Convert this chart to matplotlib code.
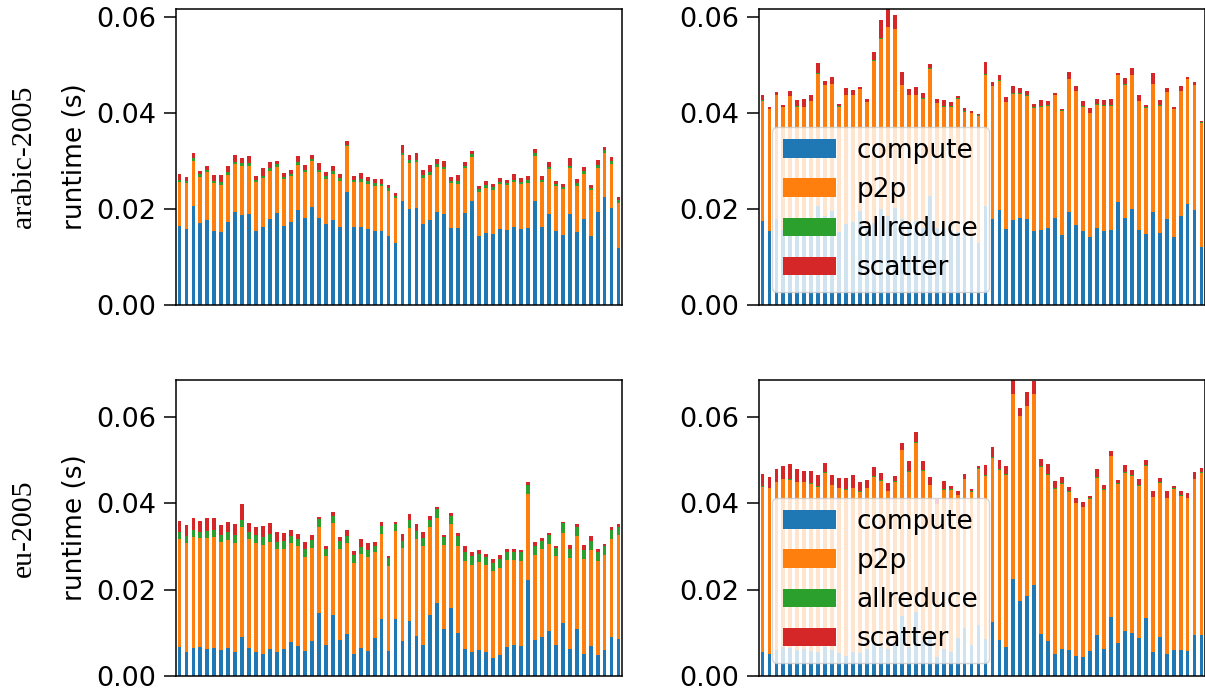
import numpy as np
import matplotlib
matplotlib.use("Agg")
import matplotlib.pyplot as plt

# runtimes in ms, 64 runs per panel
# arabic-2005, left column
arabic_l_compute = [16.4, 15.8, 20.6, 17.1, 17.7, 15.4, 15.2, 17.3, 19.4, 18.7,
                    19.0, 15.4, 16.2, 17.9, 19.2, 16.4, 17.3, 19.8, 18.1, 20.4,
                    18.1, 16.9, 17.7, 16.2, 23.6, 16.2, 16.2, 15.8, 15.4, 15.4,
                    14.4, 12.9, 21.7, 20.0, 20.2, 16.9, 17.7, 19.4, 19.0, 16.0,
                    16.0, 19.2, 21.7, 14.4, 15.0, 14.8, 15.8, 15.6, 16.2, 15.8,
                    16.0, 21.7, 16.2, 19.0, 15.4, 14.6, 19.0, 15.2, 17.9, 14.4,
                    19.4, 22.5, 20.2, 11.8]
arabic_l_p2p = [9.3, 9.5, 9.4, 9.5, 9.9, 10.0, 9.8, 9.8, 10.0, 10.2,
                10.0, 10.2, 10.2, 10.0, 9.6, 9.8, 9.6, 9.4, 9.6, 9.6,
                9.6, 9.4, 9.6, 9.6, 9.4, 9.4, 9.4, 9.4, 9.4, 9.4,
                9.4, 9.4, 9.6, 9.6, 9.6, 9.6, 9.4, 9.4, 9.4, 9.4,
                9.2, 9.4, 9.2, 9.2, 9.4, 9.2, 9.4, 9.4, 9.4, 9.4,
                9.4, 9.4, 9.4, 9.4, 9.4, 9.6, 9.6, 9.6, 9.4, 9.6,
                9.2, 9.2, 9.2, 9.4]
arabic_l_allreduce = [0.4, 0.6, 0.6, 0.6, 0.4, 0.4, 0.6, 0.6, 0.4, 0.6,
                      0.6, 0.4, 0.4, 0.6, 0.6, 0.4, 0.4, 0.6, 0.4, 0.4,
                      0.4, 0.6, 0.6, 0.6, 0.4, 0.4, 0.6, 0.6, 0.6, 0.4,
                      0.6, 0.4, 0.4, 0.6, 0.4, 0.6, 0.6, 0.6, 0.4, 0.4,
                      0.6, 0.4, 0.6, 0.6, 0.6, 0.6, 0.4, 0.4, 0.4, 0.4,
                      0.6, 0.5, 0.4, 0.4, 0.4, 0.4, 0.4, 0.6, 0.6, 0.4,
                      0.6, 0.6, 0.6, 0.6]
arabic_l_scatter = [1.2, 0.8, 1.0, 0.6, 1.0, 1.2, 1.5, 1.2, 1.5, 1.0,
                    1.5, 0.8, 1.7, 1.2, 0.6, 0.8, 0.8, 1.2, 1.0, 0.8,
                    1.5, 0.8, 1.0, 0.8, 0.8, 0.8, 1.2, 0.8, 0.8, 1.0,
                    0.6, 0.6, 1.7, 1.0, 1.5, 1.0, 1.5, 1.0, 1.2, 0.8,
                    1.2, 0.8, 0.6, 0.6, 0.8, 0.6, 0.8, 0.6, 1.2, 0.8,
                    0.8, 0.8, 0.8, 1.0, 0.6, 0.6, 1.5, 0.8, 0.8, 0.6,
                    1.0, 0.6, 0.8, 0.6]

# arabic-2005, right column
arabic_r_compute = [17.4, 15.3, 18.0, 15.6, 17.3, 15.2, 15.0, 17.0, 20.6, 18.5,
                    19.5, 15.2, 16.8, 17.3, 19.5, 16.3, 17.0, 20.0, 18.5, 20.2,
                    18.0, 16.8, 17.5, 16.0, 22.6, 16.0, 16.0, 15.6, 15.2, 15.2,
                    14.2, 12.8, 20.6, 17.9, 19.8, 15.8, 17.7, 18.1, 17.9, 15.4,
                    15.6, 16.0, 18.1, 14.6, 19.4, 16.7, 15.4, 14.1, 16.0, 15.4,
                    15.6, 21.5, 18.1, 20.0, 15.6, 14.8, 19.4, 15.0, 17.9, 14.1,
                    18.5, 21.0, 19.8, 12.1]
arabic_r_p2p = [25.0, 25.4, 25.6, 25.6, 26.1, 26.1, 26.2, 25.4, 27.4, 27.2,
                26.4, 26.1, 26.8, 26.3, 25.4, 25.9, 33.7, 35.3, 39.3, 37.2,
                27.7, 26.8, 26.1, 26.9, 26.5, 26.0, 25.3, 25.7, 27.6, 24.9,
                25.7, 26.6, 27.2, 27.6, 26.8, 26.4, 26.3, 25.9, 25.6, 25.7,
                25.7, 25.5, 25.5, 25.8, 27.6, 27.8, 25.9, 25.8, 25.7, 26.1,
                25.9, 26.3, 27.6, 27.8, 26.8, 26.3, 26.5, 26.5, 26.4, 26.6,
                26.0, 26.0, 25.9, 25.7]
arabic_r_allreduce = [0.2, 0.1, 0.1, 0.1, 0.1, 0.1, 0.1, 0.1, 0.2, 0.1,
                      0.1, 0.1, 0.2, 0.1, 0.1, 0.1, 0.2, 0.2, 0.1, 0.1,
                      0.1, 0.1, 0.2, 0.1, 0.2, 0.1, 0.1, 0.1, 0.2, 0.2,
                      0.1, 0.1, 0.2, 0.1, 0.2, 0.1, 0.2, 0.1, 0.2, 0.1,
                      0.1, 0.2, 0.1, 0.1, 0.1, 0.1, 0.1, 0.1, 0.1, 0.1,
                      0.1, 0.1, 0.2, 0.1, 0.1, 0.1, 0.1, 0.1, 0.1, 0.1,
                      0.1, 0.1, 0.1, 0.2]
arabic_r_scatter = [1.1, 0.5, 0.7, 0.4, 1.1, 1.3, 1.5, 1.2, 2.2, 0.9,
                    1.5, 0.5, 1.3, 1.0, 0.4, 0.5, 1.7, 3.8, 3.7, 2.9,
                    2.7, 1.2, 1.6, 1.1, 0.9, 0.7, 1.3, 0.9, 0.5, 0.7,
                    0.4, 0.3, 2.6, 0.9, 1.1, 1.0, 1.4, 1.1, 0.9, 0.7,
                    1.3, 0.8, 0.4, 0.3, 1.4, 1.0, 1.0, 1.0, 1.1, 1.1,
                    1.3, 0.4, 1.4, 1.5, 1.2, 0.4, 2.3, 1.1, 0.8, 0.4,
                    1.0, 0.4, 0.7, 0.3]

# eu-2005, left column
eu_l_compute = [6.7, 5.5, 6.5, 6.7, 6.2, 6.5, 6.0, 6.5, 5.5, 9.0,
                6.5, 5.5, 5.1, 6.2, 5.5, 6.2, 7.9, 6.9, 5.8, 8.1,
                14.6, 7.2, 14.1, 8.3, 9.7, 5.1, 6.5, 5.8, 8.8, 13.2,
                5.8, 13.2, 8.1, 12.7, 9.2, 7.2, 14.1, 16.9, 10.9, 15.8,
                9.9, 6.2, 5.5, 6.0, 5.5, 4.1, 4.8, 6.7, 7.2, 6.9,
                22.3, 8.3, 9.0, 10.4, 7.2, 12.3, 6.2, 10.9, 5.1, 6.9,
                4.8, 6.0, 9.0, 8.6]
eu_l_p2p = [24.9, 25.2, 25.7, 25.2, 25.7, 25.7, 25.0, 25.0, 25.2, 25.4,
            25.2, 25.2, 25.2, 24.7, 24.0, 23.1, 22.9, 23.1, 21.7, 21.5,
            19.8, 20.5, 21.2, 21.0, 21.0, 21.0, 21.7, 21.7, 19.8, 19.6,
            19.6, 20.3, 21.5, 21.5, 22.4, 22.9, 20.3, 19.6, 19.4, 19.4,
            20.3, 20.5, 20.3, 20.3, 20.1, 20.1, 20.3, 20.1, 19.6, 19.6,
            19.8, 19.8, 20.3, 20.1, 20.5, 20.8, 21.2, 21.5, 21.9, 22.2,
            21.7, 21.9, 22.6, 24.0]
eu_l_allreduce = [1.7, 1.7, 1.7, 1.5, 1.6, 1.7, 1.6, 1.9, 1.9, 1.7,
                  1.7, 1.9, 1.9, 1.9, 1.6, 1.9, 1.6, 1.6, 1.9, 1.9,
                  1.9, 1.6, 1.7, 1.9, 1.6, 1.9, 1.6, 1.6, 1.6, 1.9,
                  1.9, 1.7, 1.6, 1.9, 1.9, 1.9, 1.7, 2.1, 1.9, 1.9,
                  2.1, 2.1, 1.9, 1.9, 1.9, 1.9, 1.9, 1.9, 1.9, 2.1,
                  2.1, 2.1, 1.9, 2.1, 1.9, 2.2, 2.1, 2.1, 2.1, 2.1,
                  2.1, 2.1, 2.1, 1.9]
eu_l_scatter = [2.5, 2.5, 2.7, 2.5, 3.0, 2.7, 2.3, 2.3, 2.6, 3.7,
                2.0, 1.9, 2.6, 2.6, 2.3, 1.9, 1.4, 1.2, 1.6, 1.1,
                0.5, 0.7, 0.9, 0.9, 1.6, 0.9, 1.9, 1.6, 0.9, 0.9,
                0.5, 0.4, 1.6, 1.3, 1.6, 1.3, 0.9, 0.5, 0.5, 0.6,
                0.9, 1.2, 0.9, 0.9, 0.7, 0.9, 0.9, 0.7, 0.7, 0.5,
                0.7, 0.7, 0.7, 0.5, 0.6, 0.4, 0.9, 0.7, 1.2, 1.2,
                0.7, 0.5, 0.7, 0.7]

# eu-2005, right column
eu_r_compute = [5.5, 5.1, 6.0, 6.7, 6.5, 6.0, 6.2, 5.8, 5.6, 6.7,
                6.0, 5.3, 4.7, 5.5, 5.4, 6.2, 7.5, 6.8, 6.2, 7.2,
                13.9, 6.8, 14.8, 8.1, 9.5, 4.4, 6.2, 5.6, 8.8, 11.0,
                7.2, 11.9, 8.6, 12.5, 8.3, 6.6, 22.5, 17.4, 18.6, 21.1,
                9.8, 8.0, 5.0, 6.2, 6.0, 4.6, 4.4, 5.8, 9.5, 6.2,
                13.7, 7.6, 10.4, 9.9, 8.8, 13.4, 5.5, 9.0, 5.1, 6.0,
                6.0, 5.7, 9.5, 9.5]
eu_r_p2p = [38.3, 38.4, 38.9, 38.9, 38.9, 38.9, 38.7, 38.7, 38.2, 40.3,
            38.2, 38.2, 38.4, 38.0, 37.2, 37.3, 38.6, 38.4, 36.6, 37.7,
            38.3, 40.5, 39.2, 39.4, 34.7, 35.4, 36.9, 37.5, 33.1, 34.6,
            35.4, 36.1, 37.7, 38.0, 39.4, 40.0, 42.7, 42.7, 43.8, 44.1,
            38.6, 38.6, 38.3, 38.3, 36.6, 35.4, 34.7, 35.2, 36.4, 36.9,
            37.1, 36.9, 36.6, 36.4, 35.2, 35.3, 35.9, 35.7, 36.1, 37.3,
            35.7, 35.5, 36.1, 37.5]
eu_r_allreduce = [0.2, 0.1, 0.1, 0.1, 0.1, 0.1, 0.1, 0.2, 0.1, 0.1,
                  0.1, 0.1, 0.2, 0.1, 0.1, 0.1, 0.2, 0.1, 0.1, 0.2,
                  0.1, 0.1, 0.1, 0.1, 0.1, 0.1, 0.2, 0.1, 0.1, 0.1,
                  0.1, 0.1, 0.1, 0.2, 0.1, 0.1, 0.1, 0.1, 0.1, 0.1,
                  0.2, 0.1, 0.2, 0.1, 0.1, 0.1, 0.1, 0.1, 0.1, 0.1,
                  0.1, 0.1, 0.1, 0.2, 0.1, 0.1, 0.1, 0.1, 0.1, 0.1,
                  0.1, 0.1, 0.1, 0.1]
eu_r_scatter = [2.7, 2.5, 3.0, 2.8, 3.5, 3.0, 2.5, 2.7, 2.7, 2.3,
                2.3, 2.3, 2.5, 2.8, 2.3, 1.8, 2.0, 1.6, 1.8, 1.1,
                1.6, 2.3, 2.3, 2.1, 1.8, 1.1, 1.8, 0.8, 0.9, 1.1,
                0.6, 0.6, 2.5, 2.3, 2.1, 2.0, 3.2, 1.8, 3.2, 3.0,
                1.6, 2.3, 1.6, 1.5, 1.1, 1.1, 1.1, 0.6, 1.8, 1.1,
                1.1, 0.8, 1.8, 1.1, 1.6, 1.3, 1.4, 1.1, 1.6, 0.6,
                1.1, 1.1, 1.4, 1.1]

graphs = ["arabic-2005", "eu-2005"]
parts = ["compute", "p2p", "allreduce", "scatter"]
colors = ["#1f77b4", "#ff7f0e", "#2ca02c", "#d62728"]

panels = [
    [[arabic_l_compute, arabic_l_p2p, arabic_l_allreduce, arabic_l_scatter],
     [arabic_r_compute, arabic_r_p2p, arabic_r_allreduce, arabic_r_scatter]],
    [[eu_l_compute, eu_l_p2p, eu_l_allreduce, eu_l_scatter],
     [eu_r_compute, eu_r_p2p, eu_r_allreduce, eu_r_scatter]],
]

FS = 19
plt.rcParams['font.size'] = FS

fig = plt.figure(figsize=(12.05, 6.91), dpi=100)

lefts = [176 / 1205, 759 / 1205]
width = 446 / 1205
bottoms = [1 - 305 / 691, 1 - 676 / 691]
height = 296 / 691

for r in range(2):
    row_axes = []
    row_max = 0
    for c in range(2):
        ax = fig.add_axes([lefts[c], bottoms[r], width, height])
        series = [np.array(s) / 1000.0 for s in panels[r][c]]
        x = np.arange(len(series[0]))
        bottom = np.zeros(len(x))
        for s, name, col in zip(series, parts, colors):
            ax.bar(x, s, width=0.55, bottom=bottom, color=col, label=name)
            bottom = bottom + s
        row_max = max(row_max, bottom.max())
        ax.set_xlim(-0.5, len(x) - 0.5)
        ax.set_xticks([])
        ax.set_yticks([0, 0.02, 0.04, 0.06])
        ax.yaxis.set_major_formatter(matplotlib.ticker.FormatStrFormatter('%.2f'))
        ax.tick_params(axis='y', length=9, width=1.1, pad=5, labelsize=19.5)
        for sp in ax.spines.values():
            sp.set_linewidth(1.1)
        if c == 0:
            ax.set_ylabel("runtime (s)", fontsize=FS, labelpad=6)
        else:
            ax.legend(loc="lower left", fontsize=FS)
        row_axes.append(ax)
    for ax in row_axes:
        ax.set_ylim(0, row_max)
    fig.text(24 / 1205, bottoms[r] + height / 2, graphs[r], rotation=90,
             ha='center', va='center', fontsize=21.5, family='Liberation Serif')

fig.savefig("out.png", dpi=100)
